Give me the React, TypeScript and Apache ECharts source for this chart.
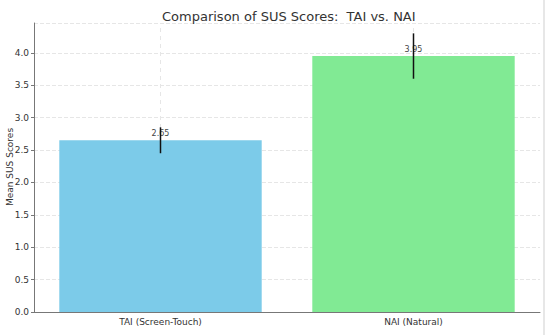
import React, { useEffect, useRef } from "react";
import * as echarts from "echarts";

const categories = ["TAI (Screen-Touch)", "NAI (Natural)"];
const means = [2.65, 3.95];
const errors = [0.2, 0.35];
const barColors = ["#7ccbe9", "#81ea94"];
const yTicks = [0, 0.5, 1, 1.5, 2, 2.5, 3, 3.5, 4];
const yMax = 4.46;
const yTitle = "Mean SUS Scores";

export default function App() {
  const ref = useRef<HTMLDivElement>(null);
  useEffect(() => {
    if (!ref.current) return;
    const chart = echarts.init(ref.current, undefined, { renderer: "svg" });
    const font = "DejaVu Sans";
    chart.setOption({
      animation: false,
      title: {
        text: "Comparison of SUS Scores:  TAI vs. NAI",
        left: 157,
        top: 5,
        textStyle: { fontFamily: font, fontSize: 13, fontWeight: "normal", color: "#333" },
      },
      grid: { left: 34, right: 10, top: 23, bottom: 23, containLabel: false, outerBoundsMode: "none" },
      xAxis: {
        type: "category",
        data: categories,
        axisLine: { lineStyle: { color: "#777", width: 1 } },
        axisTick: { alignWithLabel: true, length: 3, lineStyle: { color: "#777" } },
        axisLabel: { fontFamily: font, fontSize: 9, color: "#333", margin: 5 },
        splitLine: { show: false },
      },
      yAxis: {
        type: "value",
        min: 0,
        max: yMax,
        interval: 0.5,
        axisLine: { show: true, lineStyle: { color: "#777", width: 1 } },
        axisTick: { show: true, length: 3, lineStyle: { color: "#777" } },
        axisLabel: {
          fontFamily: font,
          fontSize: 9,
          color: "#333",
          margin: 5,
          showMaxLabel: false,
          formatter: (v: number) => (yTicks.includes(v) ? v.toFixed(1) : ""),
        },
        splitLine: { show: true, lineStyle: { color: "#e6e6e6", type: "dashed" } },
      },
      series: [
        {
          type: "custom",
          silent: true,
          data: categories.map((_, i) => [i]),
          renderItem: (params: any, api: any) => {
            const lo = api.coord([api.value(0), 0]);
            const hi = api.coord([api.value(0), yMax]);
            return {
              type: "line",
              shape: { x1: lo[0], y1: lo[1], x2: hi[0], y2: hi[1] },
              style: { stroke: "#e6e6e6", lineWidth: 1, lineDash: [4, 4] },
            };
          },
          z: 0,
        },
        {
          type: "bar",
          barWidth: "80%",
          data: means.map((v, i) => ({ value: v, itemStyle: { color: barColors[i] } })),
          label: {
            show: true,
            position: "top",
            distance: 3,
            fontFamily: font,
            fontSize: 8,
            color: "#444",
            formatter: (p: any) => p.value.toFixed(2),
          },
          z: 2,
        },
        {
          type: "custom",
          data: means.map((v, i) => [i, v - errors[i], v + errors[i]]),
          renderItem: (params: any, api: any) => {
            const lo = api.coord([api.value(0), api.value(1)]);
            const hi = api.coord([api.value(0), api.value(2)]);
            return {
              type: "line",
              shape: { x1: lo[0], y1: lo[1], x2: hi[0], y2: hi[1] },
              style: { stroke: "#111", lineWidth: 1.5 },
            };
          },
          z: 5,
        },
      ],
      graphic: [
        {
          type: "line",
          shape: { x1: 544, y1: 0, x2: 544, y2: 335 },
          style: { stroke: "#cfcfcf", lineWidth: 1 },
        },
        {
          type: "text",
          x: 10,
          y: 167,
          rotation: Math.PI / 2,
          style: {
            text: yTitle,
            fontFamily: font,
            fontSize: 9,
            fill: "#333",
            align: "center",
            verticalAlign: "middle",
          },
        },
      ],
    });
    return () => chart.dispose();
  }, []);
  return <div ref={ref} style={{ width: 550, height: 335, position: "absolute", left: 0, top: 0 }} />;
}
